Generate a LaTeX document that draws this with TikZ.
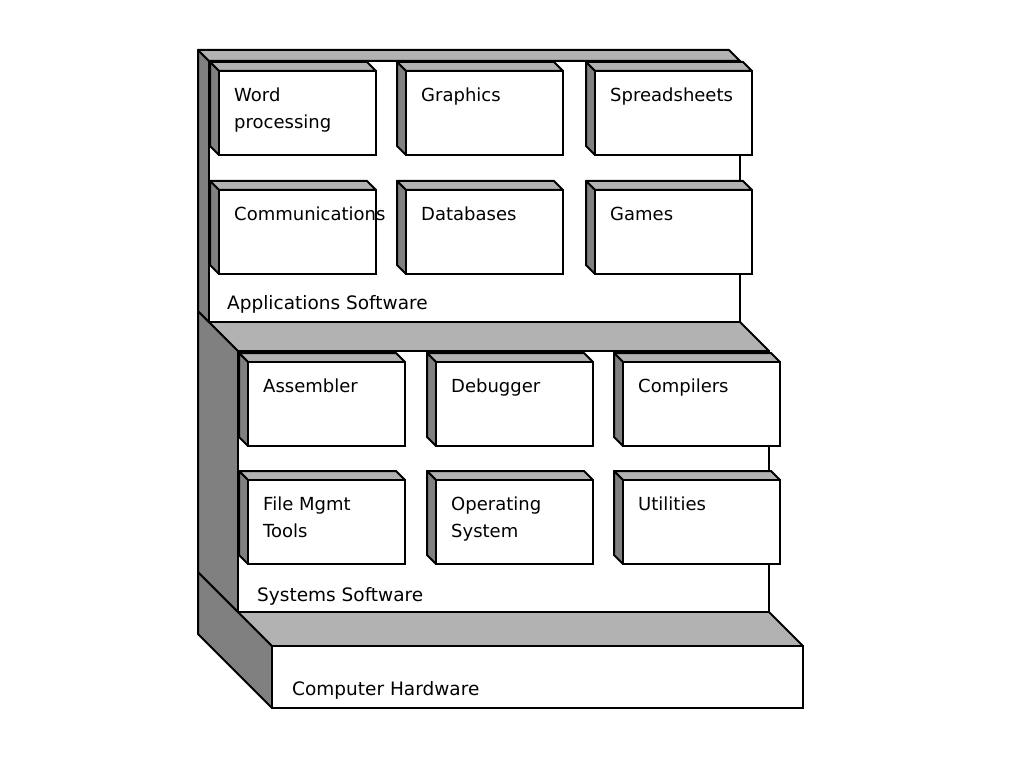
\documentclass[tikz,border=0pt]{standalone}
\usepackage{fontspec}
\setmainfont{DejaVu Sans}
\usetikzlibrary{calc}

\tikzset{
  sideface/.style={draw=black,fill=black!50,line width=2pt,line join=round},
  topface/.style={draw=black,fill=black!30,line width=2pt,line join=round},
  frontface/.style={draw=black,fill=white,line width=2pt,anchor=north west,inner sep=0pt,outer sep=0pt},
  boxtext/.style={anchor=north west,inner sep=0pt,align=left,font=\fontsize{18}{27}\selectfont},
  layertext/.style={anchor=base west,inner sep=0pt,font=\fontsize{18.5}{22}\selectfont}
}

% x, y of the front top-left corner, name, text
\newcommand{\unitbox}[4]{%
  \filldraw[topface] (#1-9,#2-9) -- (#1+148,#2-9) -- (#1+157,#2) -- (#1,#2) -- cycle;
  \filldraw[sideface] (#1-9,#2-9) -- (#1,#2) -- (#1,#2+84) -- (#1-9,#2+75) -- cycle;
  \node[frontface,minimum width=157pt,minimum height=84pt] (#3) at (#1,#2) {};
  \node[boxtext] (#3-text) at ([shift={(15pt,-17pt)}]#3.north west) {#4};
}

\begin{document}
\begin{tikzpicture}[x=1pt,y=-1pt]

\useasboundingbox (0,0) rectangle (1024,767);

\filldraw[sideface] (198,572) -- (272,646) -- (272,708) -- (198,634) -- cycle;
\filldraw[topface] (198,572) -- (729,572) -- (803,646) -- (272,646) -- cycle;
\node[frontface,minimum width=531pt,minimum height=62pt] (hardware) at (272,646) {};
\node[layertext] (hardware-text) at (292,695) {Computer Hardware};

\filldraw[sideface] (198,311) -- (238,351) -- (238,612) -- (198,572) -- cycle;
\filldraw[topface] (198,311) -- (729,311) -- (769,351) -- (238,351) -- cycle;
\node[frontface,minimum width=531pt,minimum height=261pt] (systems) at (238,351) {};
\node[layertext] (systems-text) at (257,601) {Systems Software};

\unitbox{248}{362}{assembler}{Assembler}
\unitbox{436}{362}{debugger}{Debugger}
\unitbox{623}{362}{compilers}{Compilers}
\unitbox{248}{480}{filemgmt}{File Mgmt\\Tools}
\unitbox{436}{480}{opsys}{Operating\\System}
\unitbox{623}{480}{utilities}{Utilities}

\filldraw[sideface] (198,50) -- (209,61) -- (209,322) -- (198,311) -- cycle;
\filldraw[topface] (198,50) -- (729,50) -- (740,61) -- (209,61) -- cycle;
\node[frontface,minimum width=531pt,minimum height=261pt] (applications) at (209,61) {};
\node[layertext] (applications-text) at (227,309) {Applications Software};

\unitbox{219}{71}{wordproc}{Word\\processing}
\unitbox{406}{71}{graphics}{Graphics}
\unitbox{595}{71}{spreadsheets}{Spreadsheets}
\unitbox{219}{190}{comms}{Communications}
\unitbox{406}{190}{databases}{Databases}
\unitbox{595}{190}{games}{Games}

\end{tikzpicture}
\end{document}
